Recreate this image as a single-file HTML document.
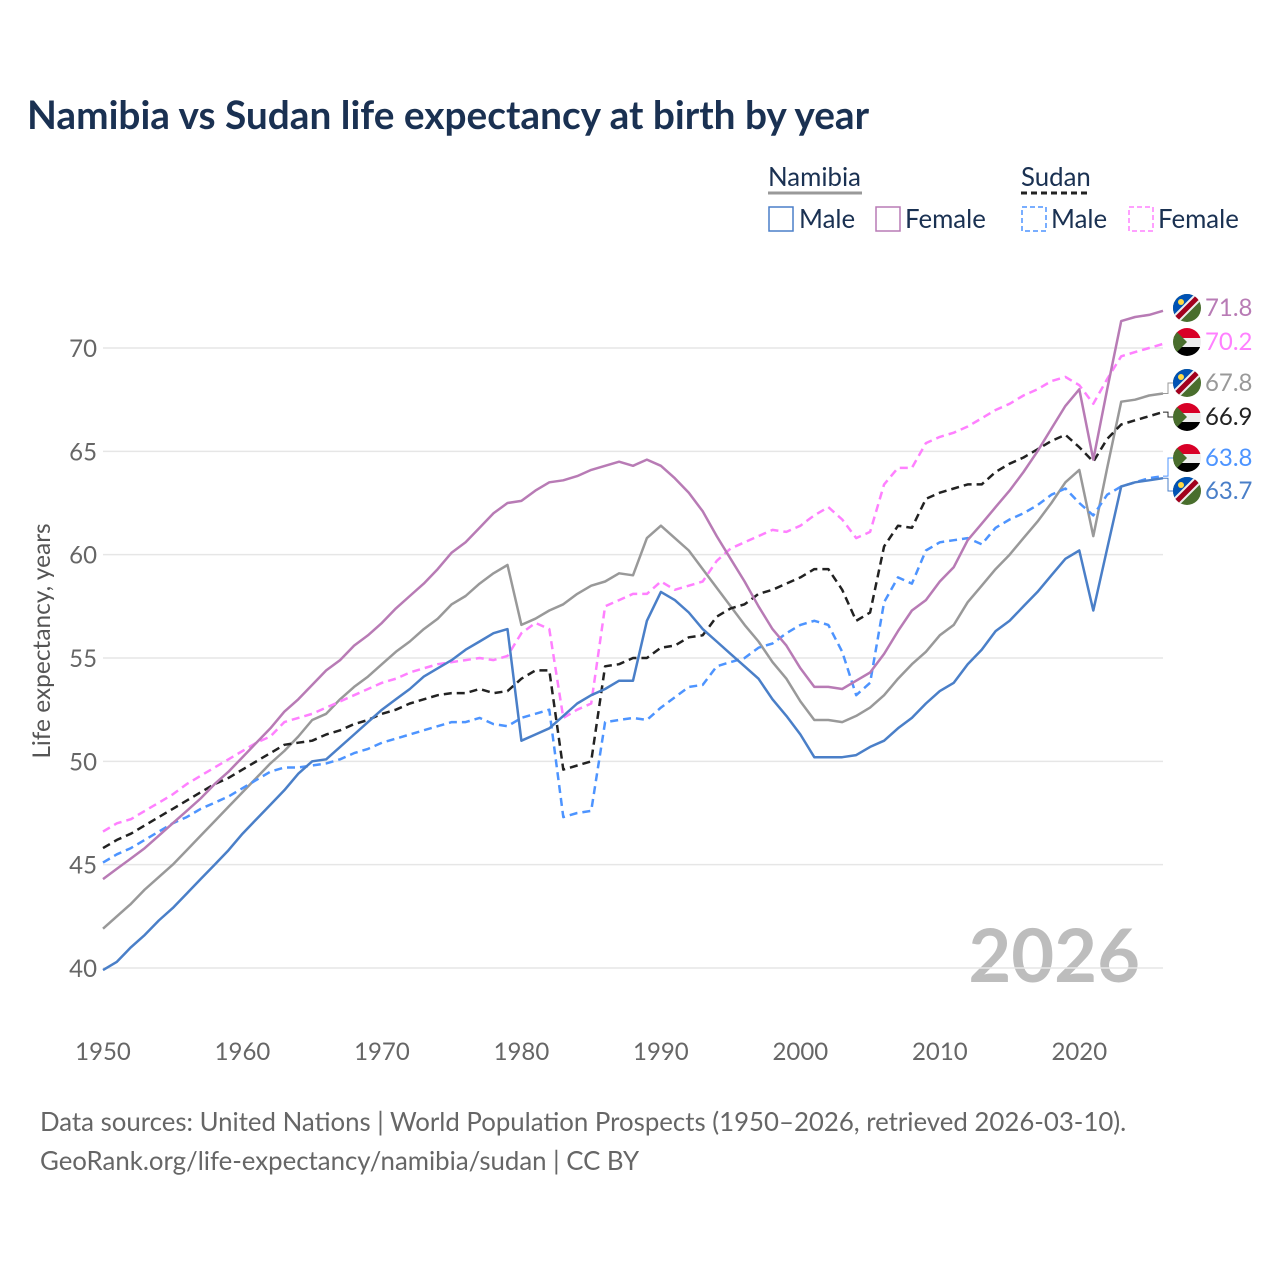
<!DOCTYPE html>
<html><head><meta charset="utf-8"><style>
body{margin:0;background:#fff;}
svg{display:block;font-family:"Lato","Liberation Sans",sans-serif;}
</style></head><body>
<svg id="chart" width="1280" height="1280" viewBox="0 0 1280 1280">
<text x="27" y="129" font-size="38.8" font-weight="bold" fill="#1a3152">Namibia vs Sudan life expectancy at birth by year</text>
<g>
 <text x="768" y="186" font-size="25.8" fill="#1a3152">Namibia</text>
 <line x1="768" y1="193" x2="862" y2="193" stroke="#999" stroke-width="3"/>
 <text x="1021" y="186" font-size="25.8" fill="#1a3152">Sudan</text>
 <line x1="1021" y1="193" x2="1091" y2="193" stroke="#222" stroke-width="3" stroke-dasharray="6,4"/>
 <rect x="769" y="207" width="24" height="24" fill="none" stroke="#4a7fc8" stroke-width="1.5"/>
 <text x="799" y="228" font-size="25.8" fill="#1a3152">Male</text>
 <rect x="876" y="207" width="24" height="24" fill="none" stroke="#b87bb5" stroke-width="1.5"/>
 <text x="905" y="228" font-size="25.8" fill="#1a3152">Female</text>
 <rect x="1022" y="207" width="24" height="24" fill="none" stroke="#4d94ff" stroke-width="1.5" stroke-dasharray="5,3"/>
 <text x="1051" y="228" font-size="25.8" fill="#1a3152">Male</text>
 <rect x="1129" y="207" width="24" height="24" fill="none" stroke="#ff80ff" stroke-width="1.5" stroke-dasharray="5,3"/>
 <text x="1158" y="228" font-size="25.8" fill="#1a3152">Female</text>
</g>
<text transform="translate(50,641) rotate(-90)" text-anchor="middle" font-size="24.5" fill="#555">Life expectancy, years</text>
<text x="1140" y="982" text-anchor="end" font-size="74" font-weight="bold" fill="#bdbdbd">2026</text>
<g id="grid"></g><g id="series"></g><g id="labels"></g>
<text x="40" y="1131" font-size="25.8" fill="#666">Data sources: United Nations | World Population Prospects (1950–2026, retrieved 2026-03-10).</text>
<text x="40" y="1170" font-size="25.8" fill="#666">GeoRank.org/life-expectancy/namibia/sudan | CC BY</text>
</svg>
<script>
const startYear = 1950;
const yTicks = [40,45,50,55,60,65,70];
const xTicks = [1950,1960,1970,1980,1990,2000,2010,2020];
const namibiaMale = [39.9,40.3,41.0,41.6,42.3,42.9,43.6,44.3,45.0,45.7,46.5,47.2,47.9,48.6,49.4,50.0,50.1,50.7,51.3,51.9,52.5,53.0,53.5,54.1,54.5,54.9,55.4,55.8,56.2,56.4,51.0,51.3,51.6,52.2,52.8,53.2,53.5,53.9,53.9,56.8,58.2,57.8,57.2,56.4,55.8,55.2,54.6,54.0,53.0,52.2,51.3,50.2,50.2,50.2,50.3,50.7,51.0,51.6,52.1,52.8,53.4,53.8,54.7,55.4,56.3,56.8,57.5,58.2,59.0,59.8,60.2,57.3,60.3,63.3,63.5,63.6,63.7];
const namibiaFemale = [44.3,44.8,45.3,45.8,46.4,47.0,47.6,48.2,48.9,49.5,50.2,50.9,51.6,52.4,53.0,53.7,54.4,54.9,55.6,56.1,56.7,57.4,58.0,58.6,59.3,60.1,60.6,61.3,62.0,62.5,62.6,63.1,63.5,63.6,63.8,64.1,64.3,64.5,64.3,64.6,64.3,63.7,63.0,62.1,60.9,59.8,58.7,57.5,56.4,55.6,54.5,53.6,53.6,53.5,53.9,54.3,55.2,56.3,57.3,57.8,58.7,59.4,60.7,61.5,62.3,63.1,64.0,65.0,66.1,67.2,68.0,64.6,68.0,71.3,71.5,71.6,71.8];
const namibiaTotal = [41.9,42.5,43.1,43.8,44.4,45.0,45.7,46.4,47.1,47.8,48.5,49.2,49.9,50.5,51.2,52.0,52.3,53.0,53.6,54.1,54.7,55.3,55.8,56.4,56.9,57.6,58.0,58.6,59.1,59.5,56.6,56.9,57.3,57.6,58.1,58.5,58.7,59.1,59.0,60.8,61.4,60.8,60.2,59.3,58.4,57.5,56.6,55.8,54.8,54.0,52.9,52.0,52.0,51.9,52.2,52.6,53.2,54.0,54.7,55.3,56.1,56.6,57.7,58.5,59.3,60.0,60.8,61.6,62.5,63.5,64.1,60.9,64.2,67.4,67.5,67.7,67.8];
const sudanTotal = [45.8,46.2,46.5,46.9,47.3,47.7,48.1,48.5,48.9,49.2,49.6,50.0,50.4,50.8,50.9,51.0,51.3,51.5,51.8,52.0,52.3,52.5,52.8,53.0,53.2,53.3,53.3,53.5,53.3,53.4,54.0,54.4,54.4,49.6,49.8,50.0,54.6,54.7,55.0,55.0,55.5,55.6,56.0,56.1,57.0,57.4,57.6,58.1,58.3,58.6,58.9,59.3,59.3,58.3,56.8,57.2,60.4,61.4,61.3,62.7,63.0,63.2,63.4,63.4,64.0,64.4,64.7,65.1,65.5,65.8,65.2,64.5,65.6,66.3,66.5,66.7,66.9];
const sudanFemale = [46.6,47.0,47.2,47.6,48.0,48.4,48.9,49.3,49.7,50.1,50.5,50.9,51.2,51.9,52.1,52.3,52.6,52.9,53.2,53.5,53.8,54.0,54.3,54.5,54.7,54.8,54.9,55.0,54.9,55.1,56.2,56.7,56.4,52.1,52.5,52.8,57.5,57.8,58.1,58.1,58.7,58.3,58.5,58.7,59.7,60.3,60.6,60.9,61.2,61.1,61.4,61.9,62.3,61.7,60.8,61.1,63.4,64.2,64.2,65.4,65.7,65.9,66.2,66.6,67.0,67.3,67.7,68.0,68.4,68.6,68.2,67.3,68.5,69.6,69.8,70.0,70.2];
const sudanMale = [45.1,45.5,45.8,46.2,46.6,47.0,47.3,47.7,48.0,48.3,48.7,49.1,49.5,49.7,49.7,49.8,49.9,50.1,50.4,50.6,50.9,51.1,51.3,51.5,51.7,51.9,51.9,52.1,51.8,51.7,52.1,52.3,52.5,47.3,47.5,47.6,51.9,52.0,52.1,52.0,52.6,53.1,53.6,53.7,54.6,54.8,55.0,55.5,55.7,56.2,56.6,56.8,56.6,55.3,53.2,53.8,57.7,58.9,58.6,60.2,60.6,60.7,60.8,60.5,61.3,61.7,62.0,62.4,62.9,63.2,62.5,61.9,62.9,63.3,63.5,63.7,63.8];

const NS="http://www.w3.org/2000/svg";
const X0=103, X1=1163, Y0=348, Y1=968;
function xs(yr){return X0+(yr-1950)*(X1-X0)/76;}
function ys(v){return Y0+(70-v)*(Y1-Y0)/30;}
function mk(tag,attrs,parent){const e=document.createElementNS(NS,tag);for(const k in attrs)e.setAttribute(k,attrs[k]);parent.appendChild(e);return e;}
const grid=document.getElementById('grid');
yTicks.forEach(t=>{
  const l=mk('line',{x1:X0,x2:X1,y1:ys(t),y2:ys(t),stroke:'#e6e6e6','stroke-width':1.5},grid);
  
  
  const tx=mk('text',{x:97,y:ys(t)+9,'text-anchor':'end','font-size':24,fill:'#666'},grid);
  tx.textContent=t;
  
  
});
xTicks.forEach(t=>{
  const tx=mk('text',{x:xs(t),y:1060,'text-anchor':'middle','font-size':24,fill:'#666'},grid);
  tx.textContent=t;
  
  
});
const ser=document.getElementById('series');
function draw(arr,color,dash,name){
  const d=arr.map((v,i)=>(i?'L':'M')+xs(startYear+i).toFixed(1)+','+ys(v).toFixed(1)).join('');
  const p=mk('path',{d:d,fill:'none',stroke:color,'stroke-width':2.5,'stroke-linejoin':'round'},ser);
  if(dash)p.setAttribute('stroke-dasharray','8,5');
  
  
}
draw(namibiaTotal,'#999',false,'namibia-total-line');
draw(sudanTotal,'#222',true,'sudan-total-line');
draw(sudanMale,'#4d94ff',true,'sudan-male-line');
draw(sudanFemale,'#ff80ff',true,'sudan-female-line');
draw(namibiaMale,'#4a7fc8',false,'namibia-male-line');
draw(namibiaFemale,'#b87bb5',false,'namibia-female-line');

const lab=document.getElementById('labels');
const ends=[
 {v:namibiaFemale,c:'#b87bb5',y:308,f:'n',n:'namibia-female'},
 {v:sudanFemale,c:'#ff80ff',y:342,f:'s',n:'sudan-female'},
 {v:namibiaTotal,c:'#999',y:383,f:'n',n:'namibia-total'},
 {v:sudanTotal,c:'#222',y:417,f:'s',n:'sudan-total'},
 {v:sudanMale,c:'#4d94ff',y:458,f:'s',n:'sudan-male'},
 {v:namibiaMale,c:'#4a7fc8',y:491,f:'n',n:'namibia-male'}];
ends.forEach((e,i)=>{
  const last=e.v[e.v.length-1];
  const cx=1187, cy=e.y;
  const ly=ys(last);
  if(Math.abs(ly-cy)>3){
    const c=mk('path',{d:`M${X1},${ly}H1168V${cy}H1173`,fill:'none',stroke:e.c,'stroke-width':1},lab);
    
    
  }
  const g=mk('g',{},lab);
  
  
  const cid='clip'+i;
  const cp=mk('clipPath',{id:cid},g);mk('circle',{cx:cx,cy:cy,r:14},cp);
  const f=mk('g',{'clip-path':`url(#${cid})`},g);
  if(e.f==='n'){
    mk('rect',{x:cx-14,y:cy-14,width:28,height:28,fill:'#496e2d'},f);
    mk('polygon',{points:`${cx-14},${cy-14} ${cx+14},${cy-14} ${cx-14},${cy+14}`,fill:'#0052b4'},f);
    mk('line',{x1:cx-16,y1:cy+16,x2:cx+16,y2:cy-16,stroke:'#eee','stroke-width':9},f);
    mk('line',{x1:cx-16,y1:cy+16,x2:cx+16,y2:cy-16,stroke:'#a2001d','stroke-width':5},f);
    mk('circle',{cx:cx-6,cy:cy-6,r:3,fill:'#ffda44'},f);
  }else{
    mk('rect',{x:cx-14,y:cy-14,width:28,height:10,fill:'#d80027'},f);
    mk('rect',{x:cx-14,y:cy-4,width:28,height:9,fill:'#eee'},f);
    mk('rect',{x:cx-14,y:cy+5,width:28,height:10,fill:'#000'},f);
    mk('polygon',{points:`${cx-14},${cy-14} ${cx},${cy} ${cx-14},${cy+14}`,fill:'#496e2d'},f);
  }
  const t=mk('text',{x:1205,y:cy+8,'font-size':24,fill:e.c},lab);
  t.textContent=last.toFixed(1);
  
  
});
</script>
</body></html>
